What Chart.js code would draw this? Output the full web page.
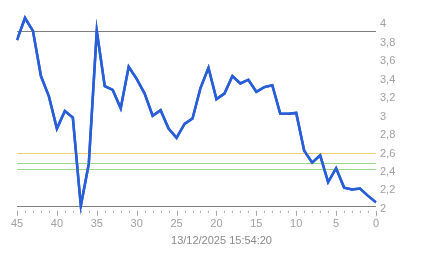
<!DOCTYPE html>
<html>
<head>
<meta charset="utf-8">
<script src="https://cdn.jsdelivr.net/npm/chart.js@4.4.1/dist/chart.umd.min.js"></script>
<style>
  html, body { margin: 0; padding: 0; background: #fff; }
  #wrap { width: 443px; height: 258px; }
</style>
</head>
<body>
<div id="wrap"><canvas id="chart" width="443" height="258"></canvas></div>
<script>
// x positions (count down from 45 to 0)
const xPoints = [45, 44, 43, 42, 41, 40, 39, 38, 37, 36, 35, 34, 33, 32, 31, 30,
    29, 28, 27, 26, 25, 24, 23, 22, 21, 20, 19, 18, 17, 16, 15, 14, 13, 12, 11, 10,
    9, 8, 7, 6, 5, 4, 3, 2, 1, 0]
// values
const values = [3.83, 4.07, 3.93, 3.44, 3.22, 2.87, 3.06, 2.99, 2.03, 2.49, 3.93,
    3.33, 3.29, 3.09, 3.54, 3.41, 3.25, 3.01, 3.07, 2.87, 2.77, 2.92, 2.98, 3.31,
    3.53, 3.19, 3.25, 3.44, 3.36, 3.40, 3.27, 3.32, 3.34, 3.03, 3.03, 3.04, 2.63,
    2.50, 2.58, 2.29, 2.44, 2.23, 2.21, 2.22, 2.14, 2.07]
const yTicks = [2, 2.2, 2.4, 2.6, 2.8, 3, 3.2, 3.4, 3.6, 3.8, 4]
const grayLevels = [3.933, 2.026]
const yellowLevels = [2.601]
const greenLevels = [2.494, 2.43]
const stamp = '13/12/2025 15:54:20'

function drawLevel(chart, v, color) {
    const { ctx, chartArea, scales } = chart
    const y = Math.round(scales.y.getPixelForValue(v)) + 0.5
    ctx.strokeStyle = color
    ctx.beginPath()
    ctx.moveTo(chartArea.left, y)
    ctx.lineTo(chartArea.right, y)
    ctx.stroke()
}

const levelLines = {
    id: 'levelLines',
    afterDraw(chart) {
        const { ctx, chartArea, scales } = chart
        ctx.save()
        ctx.lineWidth = 1
        yellowLevels.forEach(v => drawLevel(chart, v, 'rgb(236, 204, 110)'))
        greenLevels.forEach(v => drawLevel(chart, v, 'rgb(160, 214, 140)'))
        grayLevels.forEach(v => drawLevel(chart, v, 'rgb(127, 127, 127)'))

        // small tick marks under the axis
        ctx.strokeStyle = '#a8a8a8'
        const top = chartArea.bottom + 2
        scales.x.ticks.forEach(t => {
            const x = Math.round(scales.x.getPixelForValue(t.value)) + 0.5
            const len = t.value % 5 === 0 ? 5 : 2
            ctx.beginPath()
            ctx.moveTo(x, top)
            ctx.lineTo(x, top + len)
            ctx.stroke()
        })
        ctx.restore()
        // redraw the series on top of the level lines
        chart.getDatasetMeta(0).controller.draw()
    }
}

const labelFont = { family: 'Liberation Sans, Arial, sans-serif', size: 11 }

new Chart(document.getElementById('chart'), {
    type: 'line',
    data: {
        datasets: [{
            data: xPoints.map((x, i) => ({ x, y: values[i] })),
            borderColor: '#285ed8',
            borderWidth: 2.5,
            pointRadius: 0,
            tension: 0,
            fill: false
        }]
    },
    options: {
        responsive: false,
        animation: false,
        layout: { padding: { left: 0, right: 0, top: 7, bottom: 0 } },
        plugins: {
            legend: { display: false },
            tooltip: { enabled: false },
            title: {
                display: true,
                position: 'bottom',
                text: stamp,
                color: '#8a8a8a',
                font: { ...labelFont, weight: 'normal' },
                padding: { top: 0, bottom: 10 }
            }
        },
        scales: {
            x: {
                type: 'linear',
                reverse: true,
                min: 0,
                max: 45,
                grid: { display: false, drawTicks: false },
                border: { display: false },
                ticks: {
                    stepSize: 1,
                    autoSkip: false,
                    maxRotation: 0,
                    padding: 9,
                    color: '#a0a0a0',
                    font: labelFont,
                    callback: v => (v % 5 === 0 ? String(v) : '')
                },
                afterFit(scale) { scale.height = 26 }
            },
            y: {
                position: 'right',
                min: 2,
                max: 4.15,
                grid: { display: false, drawTicks: false },
                border: { display: false },
                ticks: {
                    padding: 4,
                    color: '#a0a0a0',
                    font: labelFont,
                    callback: v => String(Math.round(v * 10) / 10).replace('.', ',')
                },
                afterBuildTicks(scale) { scale.ticks = yTicks.map(v => ({ value: v })) },
                afterFit(scale) { scale.width = 67 }
            },
            pad: {
                position: 'left',
                min: 0,
                max: 1,
                grid: { display: false, drawTicks: false },
                border: { display: false },
                ticks: { display: false },
                afterFit(scale) { scale.width = 17 }
            }
        }
    },
    plugins: [levelLines]
})
</script>
</body>
</html>
